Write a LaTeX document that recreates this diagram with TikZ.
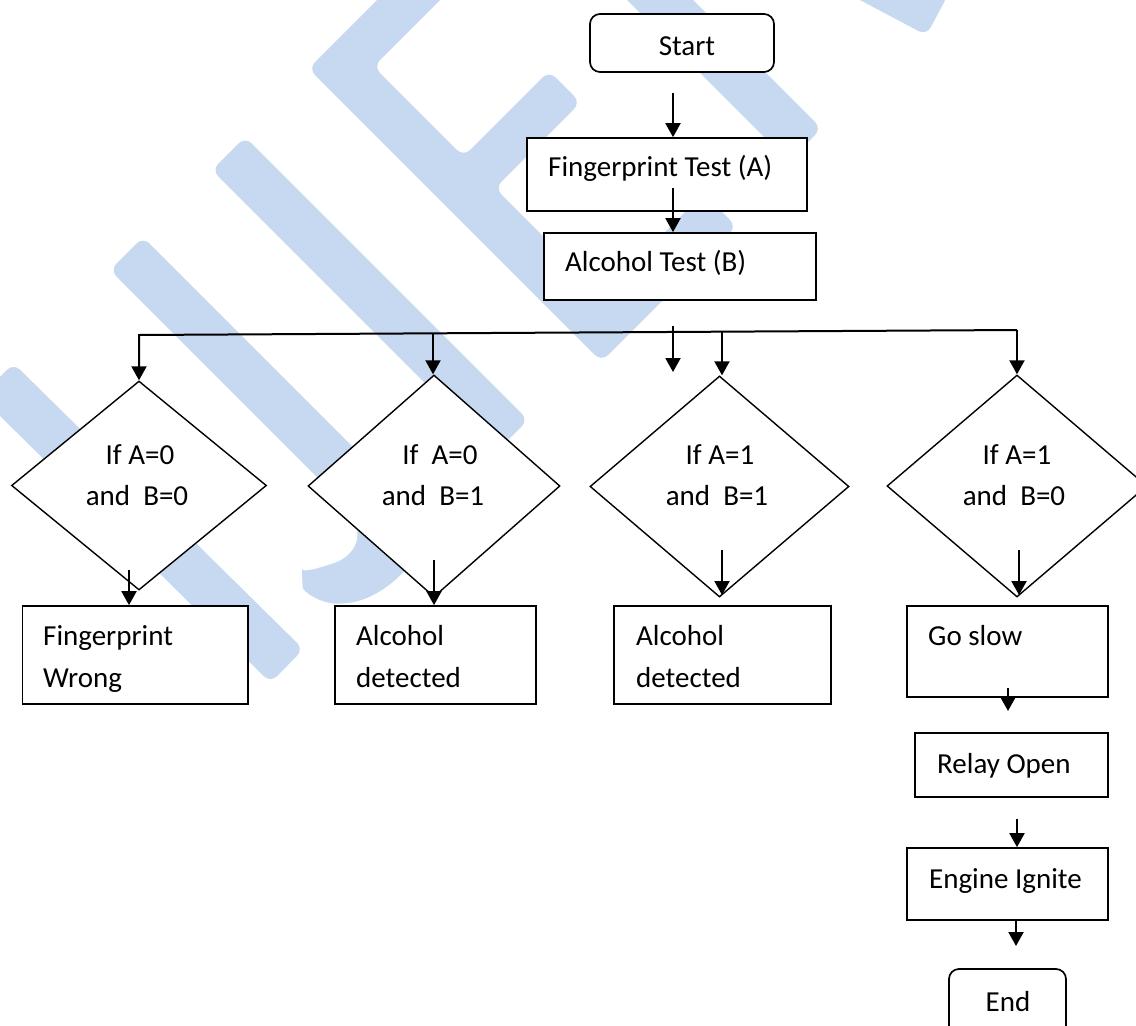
\documentclass[tikz,border=0pt]{standalone}
\usepackage{fontspec}
\setmainfont{Carlito}
\usetikzlibrary{shapes.geometric,arrows.meta,calc}
\definecolor{wm}{RGB}{198,217,240}
\newcommand{\wmbar}[3]{\fill[wm, rounded corners=9pt] ($#1!#3!90:#2$) -- ($#2!#3!-90:#1$) -- ($#2!#3!90:#1$) -- ($#1!#3!-90:#2$) -- cycle;}
\begin{document}
\begin{tikzpicture}[x=1pt,y=-1pt,
  box/.style={draw, line width=1.7pt, fill=white, rectangle, inner sep=0pt},
  rbox/.style={box, rounded corners=10pt},
  dia/.style={draw, line width=1.4pt, fill=white, diamond, inner sep=0pt},
  lbl/.style={inner sep=0pt, font=\fontsize{29}{35}\selectfont},
  arr/.style={line width=2pt, -{Triangle[width=15pt,length=14pt]}}]
\useasboundingbox (0,0) rectangle (1136,1026);
\clip (0,0) rectangle (1136,1026);
\fill[white] (0,0) rectangle (1136,1026);
% watermark
\wmbar{(-3,380)}{(287,666)}{23.5pt}
\wmbar{(228.5,153.5)}{(511.5,436.5)}{23.5pt}
\fill[wm, rounded corners=9pt] (143,237) -- (415,509) .. controls (440,534) and (400,592) .. (345,604)
  .. controls (320,603) and (303,592) .. (302,578) .. controls (302,572) and (315,569) .. (325,566)
  .. controls (350,558) and (368,540) .. (345,505) -- (110,270) -- cycle;
\fill[wm, rounded corners=9pt] (308.5,68.5) -- (488.5,-111.5) -- (520,-80) -- (373.5,66.5) -- (463.5,156.5)
  -- (549,71) -- (580.5,102.5) -- (495,188) -- (602,295) -- (703.5,193.5) -- (736.5,226.5) -- (601.5,361.5) -- cycle;
\fill[wm, rounded corners=9pt] (213.5,-413.5) -- (246.5,-446.5) -- (821.5,128.5) -- (788.5,161.5) -- cycle;
\wmbar{(783,-67.6)}{(937.5,14.6)}{23.5pt}
% nodes
\node[rbox, minimum width=184pt, minimum height=58pt] (start) at (682,43) {};
\node[box, minimum width=280pt, minimum height=73pt] (fpt) at (667,174.5) {};
\node[box, minimum width=272pt, minimum height=67pt] (alc) at (680,266.5) {};
\node[dia, minimum width=255pt, minimum height=209pt] (d1) at (139,485.5) {};
\node[dia, minimum width=252pt, minimum height=222pt] (d2) at (434,486) {};
\node[dia, minimum width=259pt, minimum height=221pt] (d3) at (719.5,486.5) {};
\node[dia, minimum width=260pt, minimum height=222pt] (d4) at (1017,486) {};
\node[box, minimum width=225.5pt, minimum height=98pt] (fw) at (135.25,655) {};
\node[box, minimum width=201pt, minimum height=98pt] (ad1) at (435.5,655) {};
\node[box, minimum width=217pt, minimum height=98pt] (ad2) at (722.5,655) {};
\node[box, minimum width=201pt, minimum height=91pt] (gs) at (1007.5,651.5) {};
\node[box, minimum width=193pt, minimum height=64pt] (ro) at (1011.5,765) {};
\node[box, minimum width=201pt, minimum height=72pt] (ei) at (1007.5,884) {};
\node[rbox, minimum width=117pt, minimum height=71pt] (endb) at (1007.5,1004.5) {};
% texts
\node[lbl, anchor=base] (tS) at (687,55) {Start};
\node[lbl, anchor=base west] (tF) at (548,176) {Fingerprint Test (A)};
\node[lbl, anchor=base west] (tA) at (565,271) {Alcohol Test (B)};
\node[lbl, anchor=base] (t1a) at (140,464) {If A=0};
\node[lbl, anchor=base] (t1b) at (137,505) {and\ \ B=0};
\node[lbl, anchor=base] (t2a) at (440,464) {If\ \ A=0};
\node[lbl, anchor=base] (t2b) at (433,505) {and\ \ B=1};
\node[lbl, anchor=base] (t3a) at (720,464) {If A=1};
\node[lbl, anchor=base] (t3b) at (717,505) {and\ \ B=1};
\node[lbl, anchor=base] (t4a) at (1017,464) {If A=1};
\node[lbl, anchor=base] (t4b) at (1014,505) {and\ \ B=0};
\node[lbl, anchor=base west] (tfw1) at (43,645) {Fingerprint};
\node[lbl, anchor=base west] (tfw2) at (43,687) {Wrong};
\node[lbl, anchor=base west] (ta1a) at (356,645) {Alcohol};
\node[lbl, anchor=base west] (ta1b) at (356,687) {detected};
\node[lbl, anchor=base west] (ta2a) at (636,645) {Alcohol};
\node[lbl, anchor=base west] (ta2b) at (636,687) {detected};
\node[lbl, anchor=base west] (tgs) at (928,645) {Go slow};
\node[lbl, anchor=base west] (tro) at (937,773) {Relay Open};
\node[lbl, anchor=base west] (tei) at (929,888) {Engine Ignite};
\node[lbl, anchor=base] (tend) at (1008,1011) {End};
% connectors
\coordinate (a1) at (673,93);
\draw[arr] (a1) -- (a1 |- fpt.north);
\coordinate (a2) at (673,188);
\draw[arr] (a2) -- (a2 |- alc.north);
\coordinate (busL) at (139,335);
\coordinate (busR) at (1017,330);
\draw[arr] (busR) -- (busL) -- (d1.north);
\draw[arr] (busR) -- (d4.north);
\coordinate (b2) at (433,334);
\draw[arr] (b2) -- (b2 |- d2.north);
\coordinate (b3) at (722,332);
\draw[arr] (b3) -- (b3 |- d3.north);
\coordinate (s1) at (673,326);
\coordinate (s2) at (673,372);
\draw[arr] (s1) -- (s2);
\coordinate (c1) at (129,570);
\draw[arr] (c1) -- (c1 |- fw.north);
\coordinate (c2) at (434,560);
\draw[arr] (c2) -- (c2 |- ad1.north);
\coordinate (c3) at (722,550);
\coordinate (c3e) at (722,595);
\draw[arr] (c3) -- (c3e);
\coordinate (c4) at (1019,550);
\coordinate (c4e) at (1019,595);
\draw[arr] (c4) -- (c4e);
\coordinate (g1) at (1008,688);
\coordinate (g1e) at (1008,711);
\draw[arr] (g1) -- (g1e);
\coordinate (r1) at (1017,819);
\draw[arr] (r1) -- (r1 |- ei.north);
\coordinate (e1) at (1016,946);
\draw[arr] (e1 |- ei.south) -- (e1);
\end{tikzpicture}
\end{document}
